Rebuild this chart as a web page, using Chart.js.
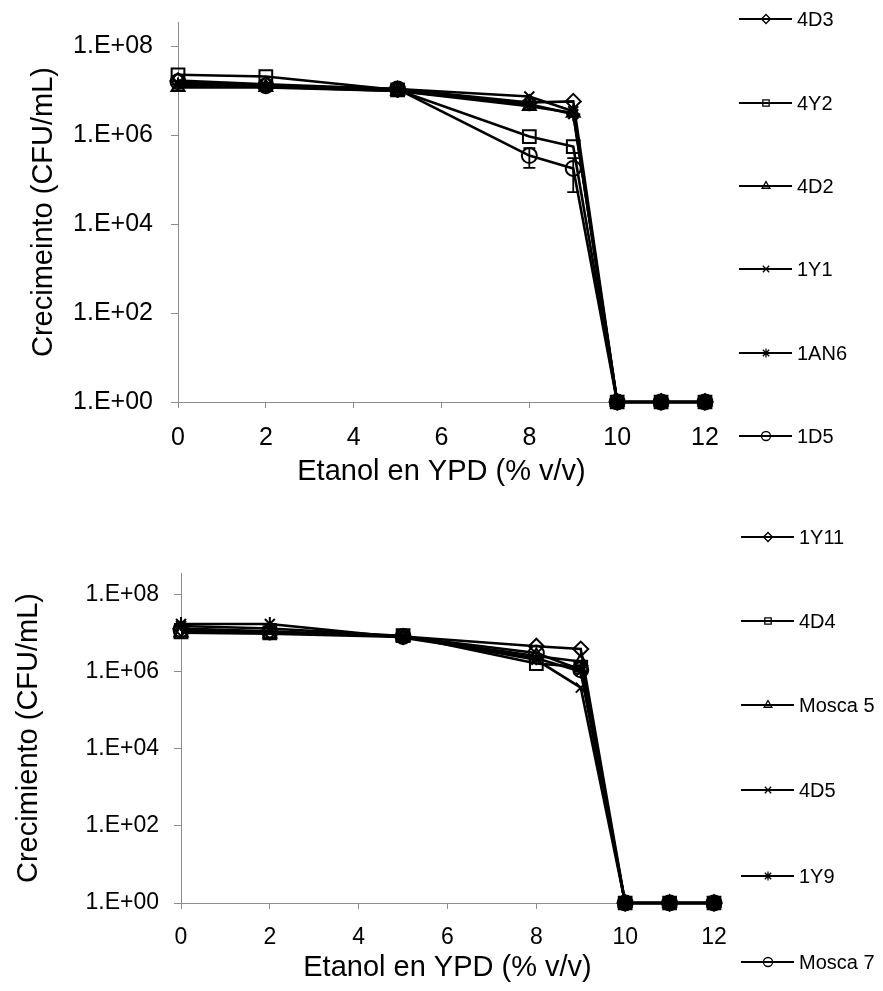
<!DOCTYPE html>
<html>
<head>
<meta charset="utf-8">
<script src="https://cdn.jsdelivr.net/npm/chart.js@4.4.1/dist/chart.umd.min.js"></script>
<style>
    body { margin: 0; background: #fff; }
    .caja { position: absolute; left: 0; width: 883px; }
</style>
</head>
<body>
<div class="caja" style="top:0;height:495px"><canvas id="graficoA"></canvas></div>
<div class="caja" style="top:495px;height:496px"><canvas id="graficoB"></canvas></div>
<script>
// % etanol en YPD
const etanol = [0, 2, 5, 8, 9, 10, 11, 12];
const marcasX = [0, 2, 4, 6, 8, 10, 12];
const marcasY = [1, 1e2, 1e4, 1e6, 1e8];

// grafico superior
const cepasA = ['4D3', '4Y2', '4D2', '1Y1', '1AN6', '1D5'];
const v4D3 = [1.7e7, 1.4e7, 1.1e7, 5.5e6, 5.8e6, 1, 1, 1];
const v4Y2 = [2.3e7, 2.1e7, 1.05e7, 9.4e5, 5.6e5, 1, 1, 1];
const v4D2 = [1.2e7, 1.2e7, 1.0e7, 4.5e6, 3.2e6, 1, 1, 1];
const v1Y1 = [1.5e7, 1.3e7, 1.1e7, 7.5e6, 3.5e6, 1, 1, 1];
const v1AN6 = [1.4e7, 1.25e7, 1.0e7, 5.0e6, 3.0e6, 1, 1, 1];
const v1D5 = [1.6e7, 1.3e7, 1.1e7, 3.5e5, 1.8e5, 1, 1, 1];
const err1D5 = [null, null, null, 1.65e5, 1.27e5, null, null, null];

// grafico inferior
const cepasB = ['1Y11', '4D4', 'Mosca 5', '4D5', '1Y9', 'Mosca 7'];
const v1Y11 = [1.3e7, 1.1e7, 8.0e6, 4.5e6, 3.8e6, 1, 1, 1];
const v4D4 = [1.05e7, 1.0e7, 8.5e6, 1.6e6, 1.3e6, 1, 1, 1];
const vMosca5 = [1.0e7, 9.5e6, 7.8e6, 2.5e6, 1.8e6, 1, 1, 1];
const v4D5 = [1.5e7, 1.3e7, 8.2e6, 2.0e6, 3.8e5, 1, 1, 1];
const v1Y9 = [1.7e7, 1.7e7, 7.5e6, 2.2e6, 1.0e6, 1, 1, 1];
const vMosca7 = [1.2e7, 1.05e7, 8.0e6, 3.0e6, 1.1e6, 1, 1, 1];

const estilos = ['rectRot', 'rect', 'triangle', 'crossRot', 'star', 'circle'];
const radios = [7.5, 9, 7.5, 7, 7, 7.5];
const fuente = 'Liberation Sans, Arial, sans-serif';
const gris = '#8c8c8c';
const vacio = 'rgba(0,0,0,0)';

function armarSeries(nombres, valores, errores) {
    return nombres.map((nombre, i) => ({
        label: nombre,
        data: etanol.map((x, j) => ({ x: x, y: valores[i][j] })),
        errores: errores[i],
        order: nombres.length - i,
        borderColor: '#000',
        backgroundColor: vacio,
        borderWidth: 2.6,
        pointStyle: estilos[i],
        pointRadius: radios[i],
        pointBorderWidth: 2,
        pointBorderColor: '#000',
        // los puntos apilados en el minimo se ven como un bloque negro
        pointBackgroundColor: c => (c.raw && c.raw.y <= 1) ? '#000' : vacio,
        tension: 0,
        fill: false,
        clip: false
    }));
}

// barras de error verticales
const barrasError = {
    id: 'barrasError',
    afterDatasetsDraw(chart) {
        const ctx = chart.ctx;
        const ejeY = chart.scales.y;
        const ejeX = chart.scales.x;
        ctx.save();
        ctx.strokeStyle = '#000';
        ctx.lineWidth = 1.8;
        chart.data.datasets.forEach(ds => {
            if (!ds.errores) return;
            ds.data.forEach((p, j) => {
                const e = ds.errores[j];
                if (!e) return;
                const px = ejeX.getPixelForValue(p.x);
                const arriba = ejeY.getPixelForValue(p.y + e);
                const abajo = ejeY.getPixelForValue(Math.max(p.y - e, 1));
                ctx.beginPath();
                ctx.moveTo(px, arriba); ctx.lineTo(px, abajo);
                ctx.moveTo(px - 6, arriba); ctx.lineTo(px + 6, arriba);
                ctx.moveTo(px - 6, abajo); ctx.lineTo(px + 6, abajo);
                ctx.stroke();
            });
        });
        ctx.restore();
    }
};

// leyenda tipo Excel: linea con marcador
const leyendaLateral = {
    id: 'leyendaLateral',
    afterDraw(chart, args, opts) {
        const ctx = chart.ctx;
        ctx.save();
        chart.data.datasets.forEach((ds, i) => {
            const y = opts.filas[i];
            ctx.strokeStyle = '#000';
            ctx.lineWidth = 2.2;
            ctx.beginPath();
            ctx.moveTo(opts.x, y);
            ctx.lineTo(opts.x + 53, y);
            ctx.stroke();
            ctx.fillStyle = vacio;
            ctx.lineWidth = 1.3;
            Chart.helpers.drawPoint(ctx, { pointStyle: ds.pointStyle, rotation: 0, radius: 4.5, borderWidth: 1.3 }, opts.x + 27, y);
            ctx.fillStyle = '#000';
            ctx.font = '20px ' + fuente;
            ctx.textBaseline = 'middle';
            ctx.fillText(ds.label, opts.x + 58, y + 1);
        });
        ctx.restore();
    }
};

function crearGrafico(id, series, tituloY, m) {
    return new Chart(document.getElementById(id), {
        type: 'line',
        data: { datasets: series },
        plugins: [barrasError, leyendaLateral],
        options: {
            responsive: true,
            maintainAspectRatio: false,
            animation: false,
            layout: { padding: { top: m.arriba, right: m.derecha, left: 0, bottom: 0 } },
            scales: {
                x: {
                    type: 'linear',
                    min: 0,
                    max: 12,
                    afterBuildTicks: eje => { eje.ticks = marcasX.map(v => ({ value: v })); },
                    afterFit: eje => { eje.height = m.altoX; },
                    ticks: { color: '#000', font: { family: fuente, size: m.letraTick }, padding: 15, maxRotation: 0 },
                    grid: { drawOnChartArea: false, drawTicks: true, tickLength: 6, color: gris },
                    border: { display: true, color: gris, width: 1 },
                    title: { display: true, text: 'Etanol en YPD (% v/v)', color: '#000', font: { family: fuente, size: 29 }, padding: { top: 0, bottom: m.sepTituloX } }
                },
                y: {
                    type: 'logarithmic',
                    min: 1,
                    max: Math.pow(10, 8.55),
                    afterBuildTicks: eje => { eje.ticks = marcasY.map(v => ({ value: v })); },
                    afterFit: eje => {
                        eje.width = m.anchoY;
                        eje.paddingTop = 0;
                        eje.paddingBottom = 0;
                    },
                    ticks: {
                        color: '#000',
                        font: { family: fuente, size: m.letraTick },
                        padding: m.sepTickY,
                        callback: v => '1.E+' + String(Math.round(Math.log10(v))).padStart(2, '0')
                    },
                    grid: { drawOnChartArea: false, drawTicks: true, tickLength: 7, color: gris },
                    border: { display: true, color: gris, width: 1 },
                    title: { display: true, text: tituloY, color: '#000', font: { family: fuente, size: 29 }, padding: { top: m.sepTituloY, bottom: 0 } }
                }
            },
            plugins: {
                legend: { display: false },
                tooltip: { enabled: false },
                leyendaLateral: { x: m.leyendaX, filas: m.filas }
            }
        }
    });
}

crearGrafico('graficoA',
    armarSeries(cepasA, [v4D3, v4Y2, v4D2, v1Y1, v1AN6, v1D5], [null, null, null, null, null, err1D5]),
    'Crecimeinto (CFU/mL)',
    { arriba: 22, derecha: 178, altoX: 93, anchoY: 178, letraTick: 25, sepTickY: 18, sepTituloX: 6, sepTituloY: 27,
      leyendaX: 739, filas: [19, 103, 186, 269, 353, 436] });

crearGrafico('graficoB',
    armarSeries(cepasB, [v1Y11, v4D4, vMosca5, v4D5, v1Y9, vMosca7], [null, null, null, null, null, null]),
    'Crecimiento (CFU/mL)',
    { arriba: 78, derecha: 169, altoX: 88, anchoY: 181, letraTick: 23, sepTickY: 15, sepTituloX: 6, sepTituloY: 12,
      leyendaX: 741, filas: [42, 126, 210, 295, 381, 467] });
</script>
</body>
</html>
